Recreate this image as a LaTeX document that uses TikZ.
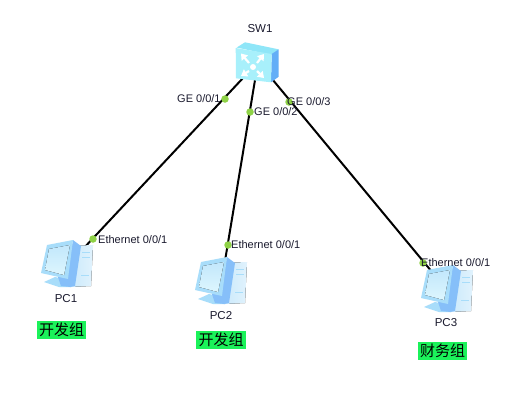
\documentclass[tikz,border=0pt]{standalone}
\usepackage{fontspec}
\usetikzlibrary{arrows.meta}
\setmainfont{Liberation Sans}
\newfontfamily\cjk{Noto Sans CJK SC}
\definecolor{pcpale}{HTML}{C8E8FB}
\definecolor{pcmid}{HTML}{A8DDFA}
\definecolor{pcscreen}{HTML}{DDF6FE}
\definecolor{pcback}{HTML}{86BFF9}
\definecolor{swfront}{HTML}{A8F0FB}
\definecolor{swside}{HTML}{63AEF7}
\definecolor{swtop}{HTML}{8FE6F8}
\definecolor{portgreen}{HTML}{8FD247}
\definecolor{taggreen}{HTML}{1BF25A}
\definecolor{textdark}{HTML}{1A1A2E}
\tikzset{
  anchorpt/.style={inner sep=0pt,minimum size=0pt,outer sep=0pt},
  link/.style={draw=black,line width=2pt},
  portdot/.style={circle,fill=portgreen,inner sep=0pt,minimum size=7.5pt},
  portlabel/.style={anchor=west,inner sep=0pt,text=textdark,font=\fontsize{11}{12}\selectfont},
  devlabel/.style={inner sep=0pt,text=textdark,font=\fontsize{11.5}{13}\selectfont},
  grouptag/.style={fill=taggreen,inner sep=0pt,minimum width=49.5pt,minimum height=18pt,text=black,font=\cjk\fontsize{15}{16}\selectfont},
  swarrow/.style={white,line width=2.2pt,-{Triangle[width=8pt,length=6pt]}},
  pcicon/.pic={
    % tower
    \fill[left color=pcpale,right color=pcpale!55] (0,-19) -- (26,-20) -- (24,21) -- (3,22) -- cycle;
    \draw[pcmid,line width=.7pt] (15,-13) -- (23,-13) (15,-8) -- (23,-8) (14,10) -- (22,10);
    % monitor back
    \fill[pcback] (6,-25) -- (14,-19) -- (8,21) -- (3,22) -- (-1,16) -- cycle;
    % base
    \fill[pcmid] (-23,17) -- (-12,12) -- (-3,14) -- (4,22) -- (-8,22) -- cycle;
    \fill[pcback] (-9,12) -- (-1,10) -- (4,22) -- (-6,21) -- cycle;
    % monitor face
    \fill[pcmid] (-20,-20) -- (6,-25) -- (1,14) -- (-26,8) -- cycle;
    \fill[top color=pcmid!70,bottom color=pcscreen] (-18,-16) -- (3,-20) -- (-3,10) -- (-22,5) -- cycle;
  }
}
\begin{document}
\begin{tikzpicture}[x=1pt,y=-1pt]
\useasboundingbox (0,0) rectangle (528,405);
\fill[white] (0,0) rectangle (528,405);
% device centres
\node[anchorpt] (sw1) at (258,62) {};
\node[anchorpt] (pc1) at (68,265) {};
\node[anchorpt] (pc2) at (221.5,282) {};
\node[anchorpt] (pc3) at (447,290) {};
% links
\draw[link] (sw1) -- (pc1);
\draw[link] (sw1) -- (pc2);
\draw[link] (sw1) -- (pc3);
% switch icon
\fill[swtop] (236.7,47.5) -- (245,42.3) -- (278.5,49.3) -- (271.7,55) -- cycle;
\fill[swside] (271.7,54) -- (278.7,49.3) -- (278.7,76.7) -- (271,82.3) -- cycle;
\fill[swfront] (235.7,48) -- (271.7,54) -- (271,82.3) -- (236,78.3) -- cycle;
\draw[swarrow] (249,63) -- (241,53.5);
\draw[swarrow] (257,63) -- (264,54);
\draw[swarrow] (249,71) -- (241,76);
\draw[swarrow] (257,71) -- (264,78);
\fill[white] (253,67) circle (3pt);
% PCs
\pic at (67,265) {pcicon};
\pic at (221,282) {pcicon};
\pic at (447,290) {pcicon};
% device labels
\node[devlabel] (sw1label) at (260,29) {SW1};
\node[devlabel] (pc1label) at (66,299) {PC1};
\node[devlabel] (pc2label) at (221,316) {PC2};
\node[devlabel] (pc3label) at (446,323) {PC3};
% ports
\node[portdot] (p1) at (225,99) {};
\node[portdot] (p2) at (250,112) {};
\node[portdot] (p3) at (289,102) {};
\node[portdot] (p4) at (93,239) {};
\node[portdot] (p5) at (228,245) {};
\node[portdot] (p6) at (423,263) {};
\node[portlabel] (l1) at (177,99) {GE 0/0/1};
\node[portlabel] (l2) at (254,112) {GE 0/0/2};
\node[portlabel] (l3) at (287,102) {GE 0/0/3};
\node[portlabel] (l4) at (98,240) {Ethernet 0/0/1};
\node[portlabel] (l5) at (231,245) {Ethernet 0/0/1};
\node[portlabel] (l6) at (421,263) {Ethernet 0/0/1};
% group tags
\node[grouptag] (g1) at (61.5,330) {开发组};
\node[grouptag] (g2) at (221,340) {开发组};
\node[grouptag] (g3) at (442.5,350.5) {财务组};
\end{tikzpicture}
\end{document}
